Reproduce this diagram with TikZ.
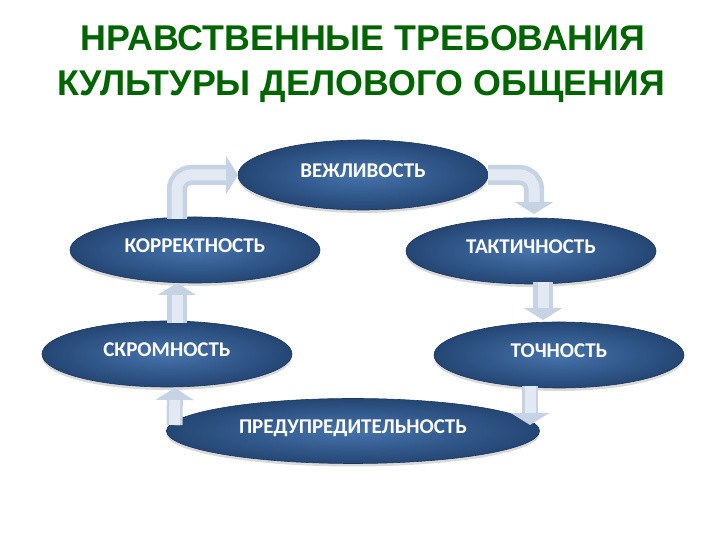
\documentclass[tikz,border=0pt]{standalone}
\usepackage{fontspec}
\setmainfont{Carlito}
\newfontfamily\headfont{Liberation Sans}
\usepackage{xcolor}
\usetikzlibrary{shapes.geometric,arrows.meta,positioning,calc,shadows}

\definecolor{headgreen}{RGB}{0,100,0}
\definecolor{ovalin}{RGB}{70,115,172}
\definecolor{ovalout}{RGB}{36,70,116}
\definecolor{ovalrim}{RGB}{28,54,92}
\definecolor{arrowedge}{RGB}{198,211,229}
\definecolor{arrowlight}{RGB}{226,233,243}

\begin{document}
\begin{tikzpicture}[x=1pt,y=1pt,
  oval/.style={ellipse, draw=ovalrim, line width=0.6pt,
    shading=radial, inner color=ovalin, outer color=ovalout,
    minimum width=250pt, minimum height=66pt, inner sep=0pt, outer sep=0pt,
    text=white, font=\bfseries\fontsize{21}{24}\selectfont,
    text height=11pt, text depth=5pt,
    drop shadow={shadow xshift=0pt, shadow yshift=-3pt, opacity=0.3}},
  flow/.style={line width=20pt, draw=arrowedge,
    -{Triangle[length=12pt,width=38pt]}, rounded corners=14pt,
    postaction={draw=arrowlight, line width=11pt, arrows=-, shorten >=12pt}},
  heading/.style={font=\headfont\bfseries\fontsize{35.8}{42}\selectfont,
    text=headgreen, anchor=base}
]
\useasboundingbox (0,0) rectangle (720,540);

% title
\node[heading] (head1) at (363,489) {НРАВСТВЕННЫЕ ТРЕБОВАНИЯ};
\node[heading] (head2) at (361,444) {КУЛЬТУРЫ ДЕЛОВОГО ОБЩЕНИЯ};

% requirements
\node[oval, minimum height=70pt] (vezh) at (363,365) {ВЕЖЛИВОСТЬ};
\node[oval] (korr) at (195,290) {КОРРЕКТНОСТЬ};
\node[oval] (takt) at (531,289) {ТАКТИЧНОСТЬ};
\node[oval] (skrom) at (167,186) {СКРОМНОСТЬ};
\node[oval] (toch) at (559,185) {ТОЧНОСТЬ};
\node[oval, minimum width=373pt, minimum height=65pt] (pred) at (353,109) {ПРЕДУПРЕДИТЕЛЬНОСТЬ};

% cycle arrows
\draw[flow] ($(korr.north)+(-18,-2)$) |- (vezh.west);
\draw[flow] (vezh.east) -| ($(takt.north)+(3,4)$);
\draw[flow] ($(takt.south)+(12,2)$) -- ($(toch.north)+(-16,2)$);
\draw[flow, line width=16pt] ($(toch.south)+(-29,2)$) -- ($(toch.south)+(-29,-37)$);
\draw[flow, line width=16pt] ($(pred.west)+(8,6)$) -- ($(skrom.south)+(8,-1)$);
\draw[flow] ($(skrom.north)+(10,-2)$) -- ($(korr.south)+(-18,0)$);
\end{tikzpicture}
\end{document}
